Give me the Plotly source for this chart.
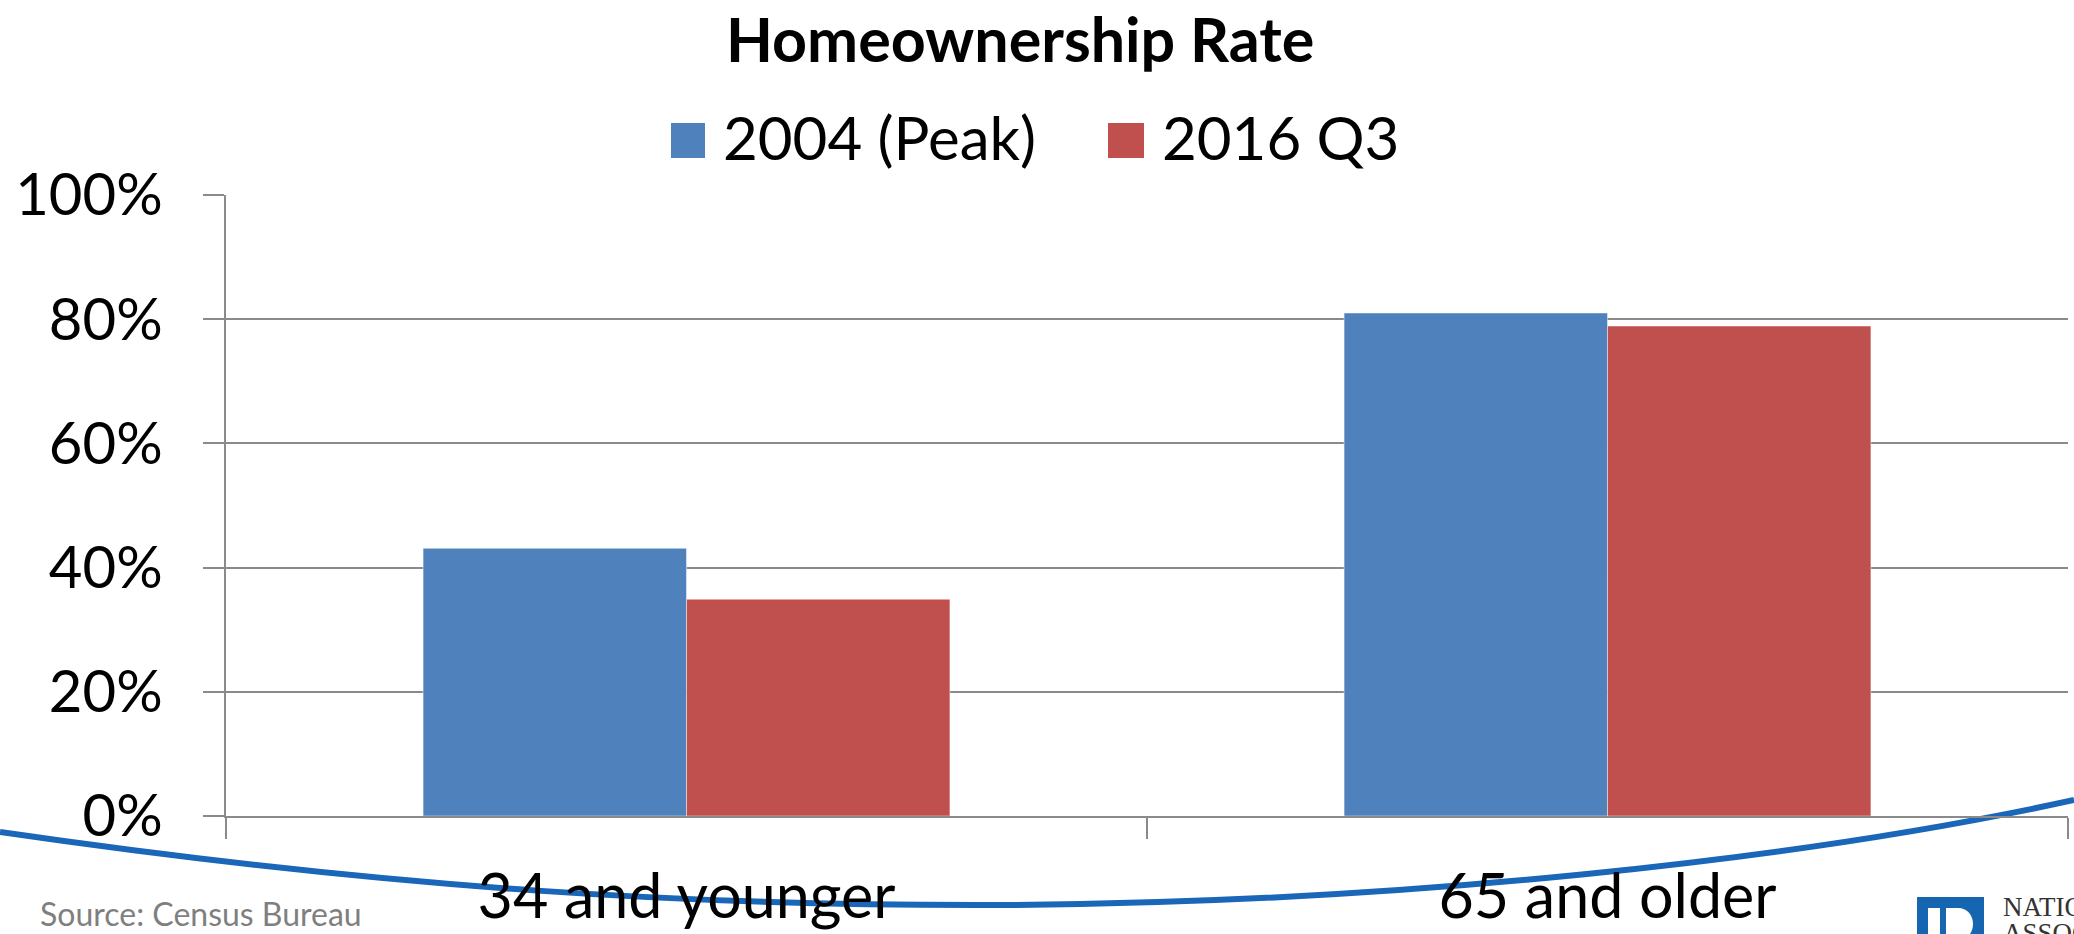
import plotly.graph_objects as go

categories = ["34 and younger", "65 and older"]
series_names = ["2004 (Peak)", "2016 Q3"]
values_2004 = [43.1, 81.0]
values_2016 = [34.9, 78.9]
y_ticks = [0, 20, 40, 60, 80, 100]
y_tick_labels = ["0%", "20%", "40%", "60%", "80%", "100%"]
title_text = "Homeownership Rate"
source_text = "Source: Census Bureau"

BLUE = "#4F81BD"
RED = "#C0504D"
GRID = "#8A8A8A"
FONT = "Lato, 'Open Sans', sans-serif"

W, H = 2074, 934
L, R, T, B = 226, 6, 195, 118
PW, PH = W - L - R, H - T - B


def px(x):
    return (x - L) / PW


def py(y):
    return (H - B - y) / PH


fig = go.Figure()
fig.add_trace(go.Bar(x=categories, y=values_2004, name=series_names[0],
                     marker=dict(color=BLUE, line=dict(color="rgba(255,255,255,0.45)", width=1)),
                     showlegend=False))
fig.add_trace(go.Bar(x=categories, y=values_2016, name=series_names[1],
                     marker=dict(color=RED, line=dict(color="rgba(255,255,255,0.45)", width=1)),
                     showlegend=False))

shapes = []
annotations = []

# decorative swoosh
pts = [(0, 832), (400, 890), (700, 906), (1000, 905), (1400, 903), (1800, 860), (2074, 800)]
p = [f"{px(x):.5f},{py(y):.5f}" for x, y in pts]
path = f"M {p[0]} C {p[1]} {p[2]} {p[3]} C {p[4]} {p[5]} {p[6]}"
shapes.append(dict(type="path", path=path, xref="paper", yref="paper",
                   line=dict(color="#1A66B8", width=6), layer="below"))

# custom legend
legend_items = [(series_names[0], BLUE, 671, 705, 721), (series_names[1], RED, 1108, 1144, 1160)]
for name, col, x0, x1, tx in legend_items:
    shapes.append(dict(type="rect", xref="paper", yref="paper",
                       x0=px(x0), x1=px(x1), y0=py(158), y1=py(123),
                       fillcolor=col, line=dict(width=0)))
    annotations.append(dict(text=name, xref="paper", yref="paper", x=px(tx), y=py(137),
                            xanchor="left", yanchor="middle", showarrow=False,
                            font=dict(family=FONT, size=60, color="black")))

# title
annotations.append(dict(text=f"<b>{title_text}</b>", xref="paper", yref="paper",
                        x=px(1020), y=py(0), xanchor="center", yanchor="top",
                        showarrow=False, font=dict(family=FONT, size=61, color="black")))

# source
annotations.append(dict(text=source_text, xref="paper", yref="paper", x=px(38), y=py(913),
                        xanchor="left", yanchor="middle", showarrow=False,
                        font=dict(family=FONT, size=32, color="#7F7F7F")))

# logo (partial, cut off at right edge)
shapes.append(dict(type="rect", xref="paper", yref="paper",
                   x0=px(1917), x1=px(1984), y0=py(960), y1=py(897),
                   fillcolor="#1565B0", line=dict(width=0)))
shapes.append(dict(type="rect", xref="paper", yref="paper",
                   x0=px(1928), x1=px(1940), y0=py(960), y1=py(908),
                   fillcolor="white", line=dict(width=0)))
shapes.append(dict(type="path", xref="paper", yref="paper",
                   path=(f"M {px(1946):.5f},{py(908):.5f} L {px(1958):.5f},{py(908):.5f} "
                         f"C {px(1978):.5f},{py(908):.5f} {px(1978):.5f},{py(940):.5f} {px(1958):.5f},{py(940):.5f} "
                         f"L {px(1946):.5f},{py(940):.5f} Z"),
                   fillcolor="white", line=dict(width=0)))
SERIF = "'Liberation Serif', 'DejaVu Serif', serif"
for txt, yc in [("NATIONAL", 906), ("ASSOCIATION", 932)]:
    annotations.append(dict(text=txt, xref="paper", yref="paper",
                            x=px(2001), y=py(yc), xanchor="left", yanchor="middle",
                            height=25, valign="middle", showarrow=False,
                            font=dict(family=SERIF, size=27, color="#333333")))

fig.update_layout(
    width=W, height=H,
    margin=dict(l=L, r=R, t=T, b=B, pad=0, autoexpand=False),
    paper_bgcolor="white", plot_bgcolor="rgba(0,0,0,0)",
    barmode="group", bargap=0.428, bargroupgap=0,
    font=dict(family=FONT, color="black"),
    showlegend=False,
    shapes=shapes, annotations=annotations,
    xaxis=dict(type="category", showline=True, linecolor=GRID, linewidth=1.5, automargin=False,
               ticks="outside", tickson="boundaries", ticklen=21, tickcolor=GRID, tickwidth=1.5,
               tickfont=dict(family=FONT, size=61, color="black"), ticklabelstandoff=27,
               showgrid=False, fixedrange=True),
    yaxis=dict(range=[0, 100], tickmode="array", tickvals=y_ticks, ticktext=y_tick_labels,
               showline=True, linecolor=GRID, linewidth=1.5, ticks="outside", ticklen=21,
               tickcolor=GRID, tickwidth=1.5, showgrid=True, gridcolor=GRID, gridwidth=1.5,
               zeroline=False, tickfont=dict(family=FONT, size=58, color="black"), automargin=False,
               ticklabelstandoff=29, fixedrange=True),
)

fig.write_html("out.html", config={"displayModeBar": False},
               post_script="document.body.style.margin='0';document.body.style.overflow='hidden';")
